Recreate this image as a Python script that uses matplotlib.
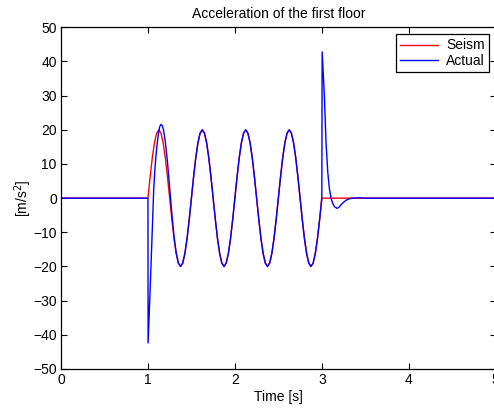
import matplotlib
matplotlib.use("Agg")
import matplotlib.pyplot as plt
import numpy as np

plt.rcParams['font.family'] = ['Liberation Sans', 'DejaVu Sans']

# seism: ground acceleration, sampled every 0.025 s between 1 s and 3 s
seism_grid = np.round(np.arange(1.0, 3.0001, 0.025), 3)
seism_vals = [0, 6.2, 11.8, 16.2, 19.0, 20.0, 19.0, 16.2, 11.8, 6.2,
              0, -6.2, -11.8, -16.2, -19.0, -20.0, -19.0, -16.2, -11.8, -6.2,
              0, 6.2, 11.8, 16.2, 19.0, 20.0, 19.0, 16.2, 11.8, 6.2,
              0, -6.2, -11.8, -16.2, -19.0, -20.0, -19.0, -16.2, -11.8, -6.2,
              0, 6.2, 11.8, 16.2, 19.0, 20.0, 19.0, 16.2, 11.8, 6.2,
              0, -6.2, -11.8, -16.2, -19.0, -20.0, -19.0, -16.2, -11.8, -6.2,
              0, 6.2, 11.8, 16.2, 19.0, 20.0, 19.0, 16.2, 11.8, 6.2,
              0, -6.2, -11.8, -16.2, -19.0, -20.0, -19.0, -16.2, -11.8, -6.2,
              0]
seism_t = [0.0] + list(seism_grid) + [5.0]
seism_a = [0.0] + seism_vals + [0.0]

# actual first floor acceleration: start transient, steady part, end transient
act_start_t = [0.0, 1.0, 1.002, 1.035, 1.066, 1.08, 1.10, 1.12, 1.135, 1.15,
               1.165, 1.18, 1.20, 1.225, 1.25, 1.275, 1.30, 1.325, 1.35]
act_start_a = [0, 0, -42.4, -20.0, 2.3, 8.5, 14.5, 18.8, 20.9, 21.6,
               21.2, 19.8, 16.5, 10.5, 3.0, -4.5, -11.2, -16.0, -19.0]
act_end_t = [3.004, 3.029, 3.048, 3.068, 3.087, 3.106, 3.125, 3.145, 3.176,
             3.20, 3.222, 3.25, 3.28, 3.32, 3.357, 3.42, 3.5, 5.0]
act_end_a = [42.8, 30.1, 16.5, 7.7, 2.8, 0.0, -1.5, -2.5, -3.0,
             -2.6, -1.9, -1.2, -0.6, -0.15, 0.0, 0.1, 0.0, 0.0]

actual_t = act_start_t + list(seism_grid[15:]) + act_end_t
actual_a = act_start_a + seism_vals[15:] + act_end_a

fig = plt.figure(figsize=(4.94, 4.09), dpi=100)
ax = fig.add_axes([61/494, 40/409, 434.7/494, 341.7/409])

ax.plot(seism_t, seism_a, color='red', lw=1.0, label='Seism')
ax.plot(actual_t, actual_a, color='blue', lw=1.0, label='Actual')

ax.set_xlim(0, 5)
ax.set_ylim(-50, 50)
ax.set_xticks(range(0, 6))
ax.set_yticks(range(-50, 51, 10))
ax.tick_params(direction='in', top=True, right=True, length=4, width=0.8,
               labelsize=10, pad=3)
for s in ax.spines.values():
    s.set_linewidth(0.9)

ax.set_title('Acceleration of the first floor', fontsize=10, pad=7)
ax.set_xlabel('Time [s]', fontsize=10, labelpad=2)
ax.set_ylabel('[m/s$^2$]', fontsize=10, labelpad=-1)

leg = ax.legend(loc='upper right', fontsize=10, fancybox=False,
                edgecolor='black', framealpha=1, borderaxespad=0.5,
                handlelength=2.7, borderpad=0.3, labelspacing=0.1,
                handletextpad=0.6)
leg.get_frame().set_linewidth(0.9)

fig.savefig('out.png', dpi=100)
